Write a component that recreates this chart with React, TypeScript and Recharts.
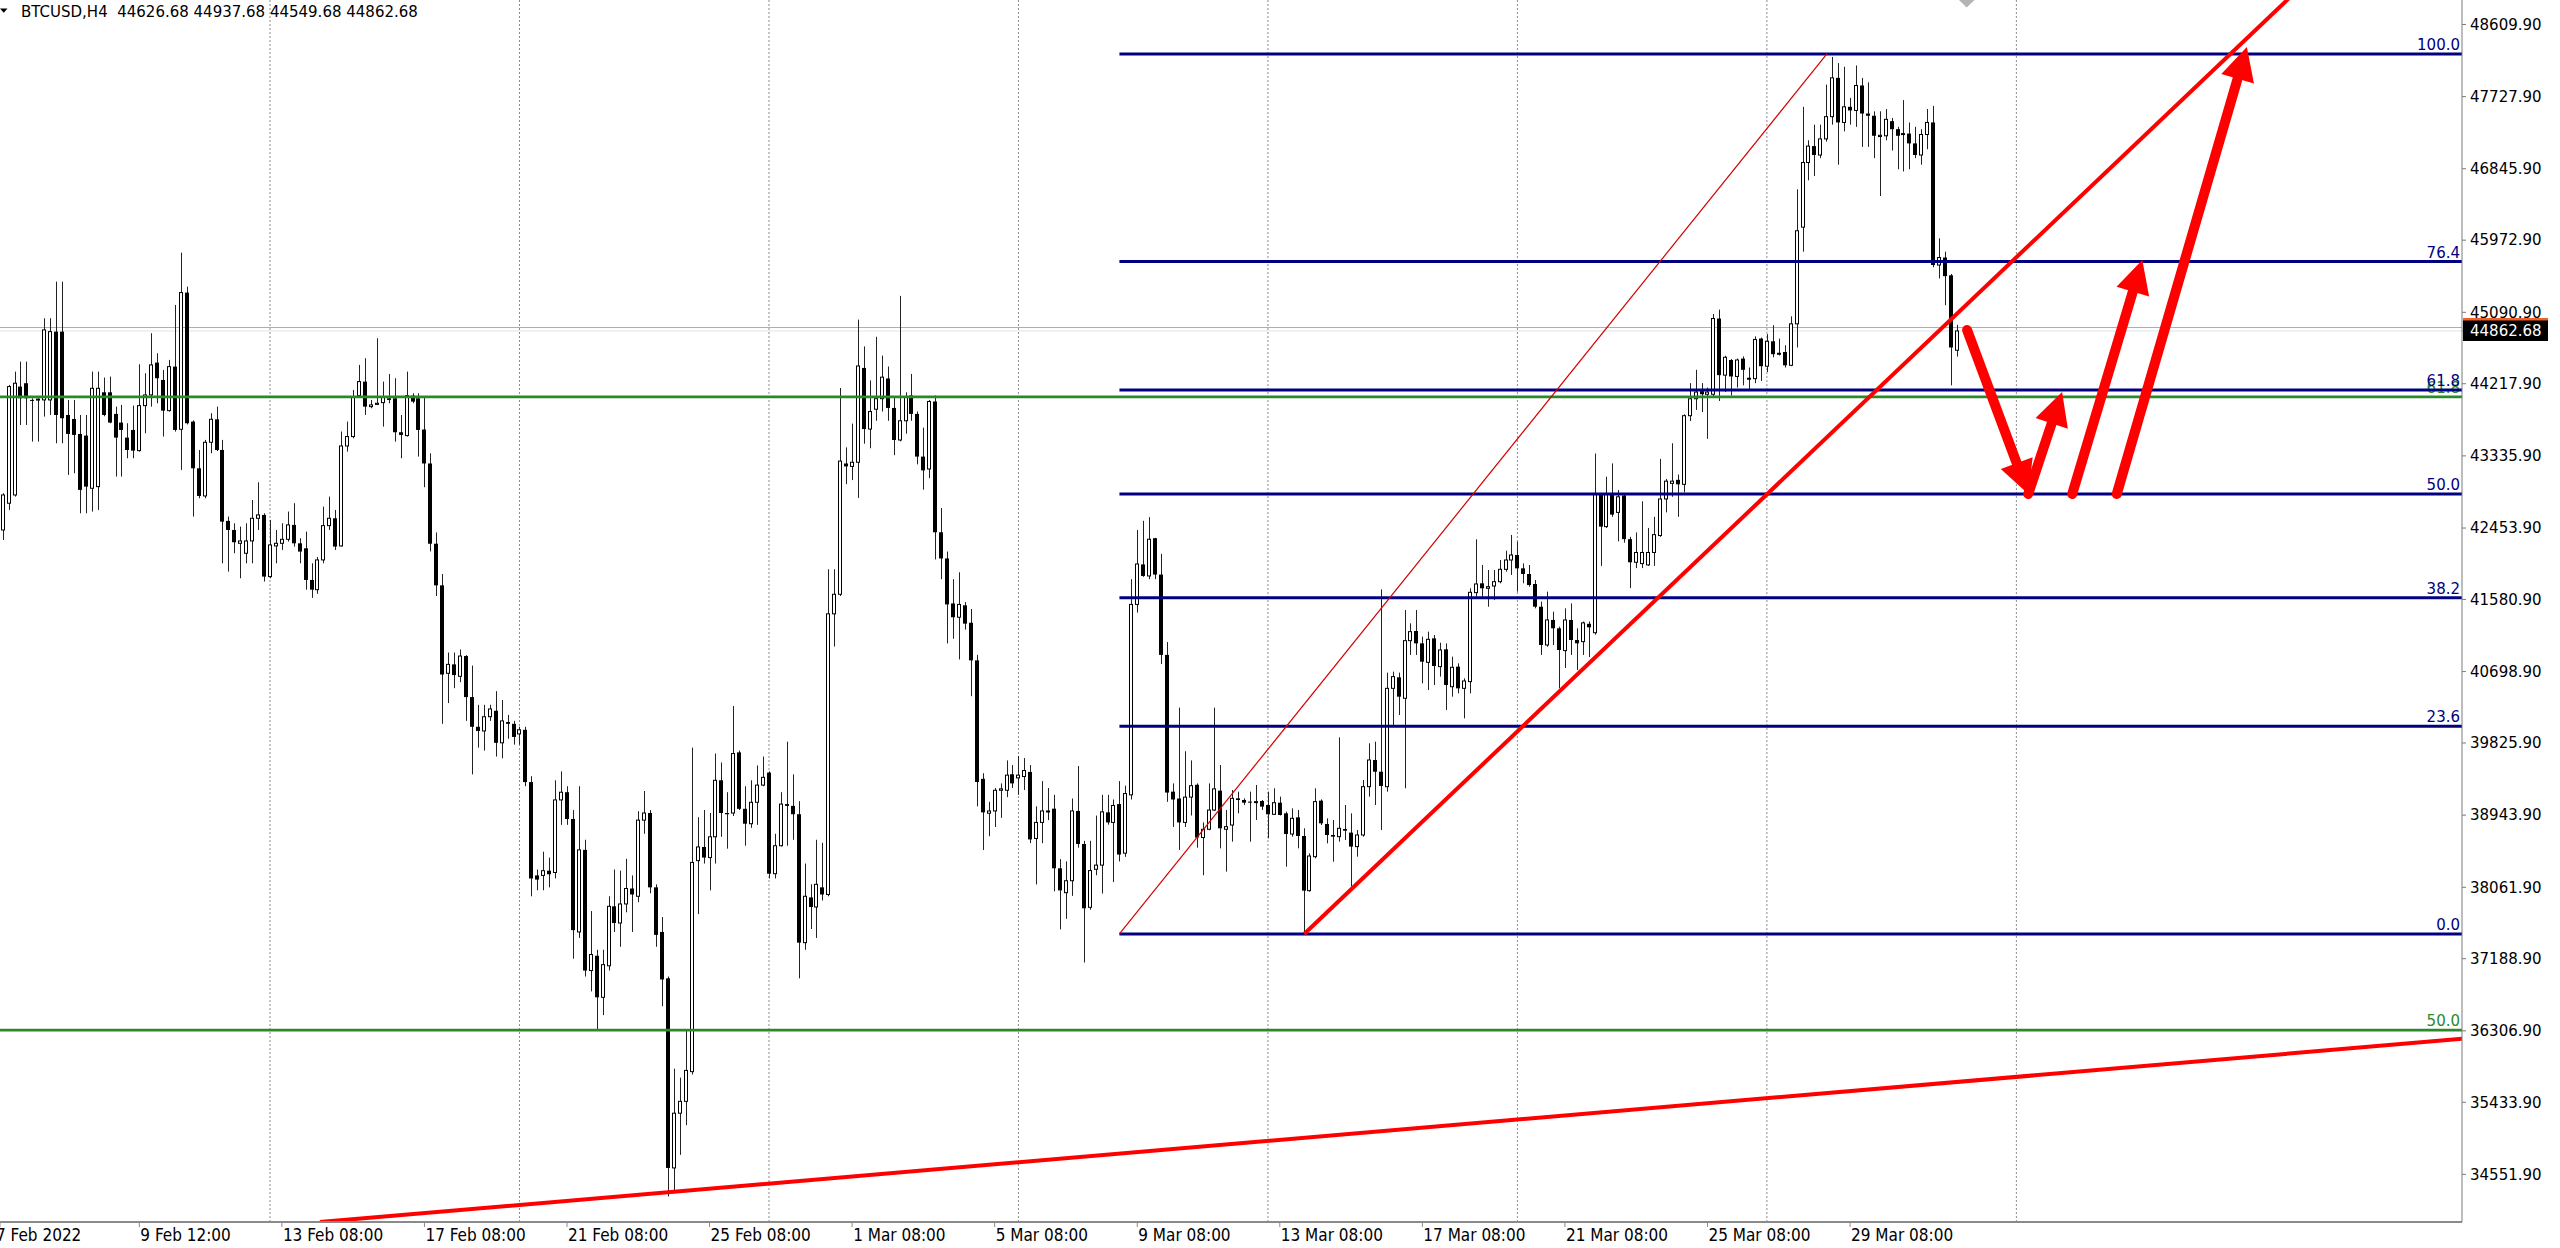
import React from "react";
import {
  ComposedChart,
  Bar,
  Line,
  Scatter,
  XAxis,
  YAxis,
  ReferenceLine,
} from "recharts";

// H4 candles (bar 0 is the leftmost candle)
const opens = [
  42430, 42757, 42858, 44183, 44224, 44020, 44020, 44020, 44020, 44855,
  44855, 43836, 43787, 43604, 43584, 42940, 42960, 44113, 44113, 43849,
  43743, 43559, 43653, 43400, 43950, 44081, 44476, 44264, 43889, 44427,
  43661, 45332, 43755, 43184, 42846, 43502, 43783, 43408, 42541, 42430,
  42267, 42145, 42296, 42573, 42614, 41860, 42235, 42267, 42316, 42492,
  42267, 42206, 41819, 41700, 42064, 42483, 42573, 42235, 43457, 43572,
  44073, 44244, 43938, 43965, 43987, 44040, 44040, 43625, 43584, 44073,
  44040, 43658, 43243, 42262, 41753, 40678, 40787, 40641, 40889, 40387,
  40024, 39973, 40147, 40220, 39828, 40082, 40060, 39937, 39987, 39348,
  38207, 38207, 38265, 38243, 39130, 39224, 38897, 37516, 38519, 37044,
  37225, 36717, 37102, 37829, 37625, 37858, 38047, 37952, 38883, 38970,
  38061, 37516, 36949, 34631, 35300, 35445, 35808, 38388, 38555, 38425,
  38679, 39370, 38970, 38970, 39711, 39021, 38839, 39101, 39311, 39464,
  38228, 38570, 39079, 39057, 38955, 37385, 37938, 37821, 38061, 37974,
  41405, 41644, 43243, 43207, 43258, 44411, 43664, 43906, 44035, 44282,
  43922, 43530, 43765, 44074, 43849, 43327, 43176, 44001, 42402, 42082,
  41532, 41363, 41509, 41296, 40836, 39388, 38967, 38995, 39248, 39248,
  39444, 39399, 39416, 39472, 38658, 38855, 38990, 39023, 38294, 37996,
  38142, 38995, 38591, 37817, 38282, 38333, 38978, 38855, 39079, 38479,
  39192, 41520, 42009, 41868, 42329, 41885, 40903, 39231, 39147, 38855,
  39164, 39315, 38670, 38771, 39006, 39243, 38771, 38823, 39149, 39129,
  39109, 39105, 39117, 39068, 38954, 39096, 38966, 38713, 38917, 38689,
  38021, 38436, 39121, 38836, 38701, 38681, 38775, 38730, 38559, 38701,
  39292, 39618, 39475, 39292, 40494, 40629, 40372, 41077, 41195, 41044,
  40812, 41105, 40759, 40971, 40514, 40759, 40494, 40576, 41664, 41778,
  41717, 41745, 41798, 41949, 42063, 42124, 41961, 41892, 41770, 41492,
  41024, 41330, 41228, 40955, 41330, 41085, 41065, 41283, 41174, 42863,
  42471, 42863, 42645, 42852, 42318, 42035, 42019, 42003, 42155, 42362,
  42809, 43000, 43043, 42988, 43827, 44034, 44127, 44089, 44089, 45015,
  44323, 44508, 44307, 44525, 44275, 44280, 44770, 44432, 44737, 44579,
  44606, 44443, 44950, 46132, 46922, 47123, 47014, 47211, 47483, 47957,
  47412, 47603, 47559, 47864, 47521, 47494, 47240, 47249, 47428, 47330,
  47265, 47276, 47156, 47014, 47265, 47412, 45669, 45761, 45543, 44627,
];

const highs = [
  42879, 44203, 44366, 44488, 44488, 44040, 44040, 45018, 45018, 45466,
  45466, 44020, 44020, 43836, 43836, 44366, 44366, 44293, 44305, 43938,
  43959, 43735, 43950, 44456, 44346, 44835, 44590, 44387, 44509, 45181,
  45821, 45405, 43770, 43408, 43531, 43857, 43938, 43531, 42594, 42512,
  42471, 42512, 42797, 43013, 42634, 42553, 42430, 42512, 42655, 42757,
  42329, 42410, 42023, 42100, 42716, 42838, 42675, 43633, 43755, 44142,
  44448, 44529, 44020, 44774, 44244, 44336, 44285, 43836, 44366, 44101,
  44101, 44057, 43367, 42400, 41892, 40932, 40932, 40969, 40900, 40772,
  40293, 40293, 40293, 40460, 40351, 40169, 40096, 40024, 40024, 39420,
  38279, 38497, 38425, 39370, 39479, 39297, 39006, 39297, 38643, 37771,
  37298, 37298, 37952, 38279, 38265, 38410, 38207, 38992, 39239, 39006,
  38098, 37698, 36971, 35845, 35735, 36317, 39769, 38919, 39006, 38970,
  39697, 39588, 39224, 40278, 39733, 39297, 39370, 39551, 39660, 39479,
  38716, 39224, 39842, 39442, 39115, 38352, 38098, 38643, 38606, 41950,
  41950, 44166, 43440, 43730, 45002, 44674, 44259, 44792, 44562, 44428,
  44057, 45292, 44113, 44338, 43878, 43681, 44018, 44074, 42699, 42166,
  41829, 41913, 41549, 41464, 40903, 39456, 39107, 39276, 39332, 39613,
  39556, 39668, 39641, 39556, 39051, 39360, 39276, 39192, 38406, 38378,
  39147, 39545, 38630, 38630, 38939, 39192, 39192, 39135, 39360, 39304,
  41829, 42430, 42542, 42587, 42334, 42138, 41060, 39332, 40258, 39725,
  39613, 39332, 38855, 39332, 40258, 39557, 39007, 39251, 39231, 39149,
  39231, 39312, 39129, 39231, 39272, 39170, 38986, 39027, 39007, 38783,
  38477, 39272, 39137, 38905, 38885, 39895, 39068, 38966, 38762, 39374,
  39822, 39842, 41704, 40686, 40698, 40686, 41452, 41289, 41452, 41126,
  41187, 41146, 41052, 41044, 40881, 40800, 40616, 41717, 42316, 42002,
  41941, 41941, 42063, 42177, 42369, 42287, 42022, 42002, 41818, 41554,
  41676, 41431, 41248, 41472, 41533, 41228, 41311, 41311, 43364, 42880,
  43081, 43244, 42918, 42863, 42346, 42400, 42781, 42455, 42591, 43299,
  43054, 43490, 43108, 43844, 44225, 44388, 44225, 44171, 45070, 45124,
  44560, 44520, 44525, 44552, 44416, 44797, 44781, 44824, 44933, 44770,
  44688, 45042, 46595, 47603, 47194, 47385, 47385, 47875, 48213, 48137,
  48093, 47712, 48109, 47957, 47902, 47548, 47548, 47576, 47467, 47358,
  47685, 47412, 47358, 47330, 47576, 47614, 45996, 45832, 45560, 44938,
];

const lows = [
  42308, 42675, 42838, 43714, 43714, 43510, 43510, 43816, 43836, 43490,
  43490, 43103, 43123, 42634, 42634, 42655, 42675, 43820, 43735, 43083,
  43083, 43307, 43307, 43388, 43612, 43938, 43979, 43572, 43877, 43633,
  43164, 43720, 42594, 42818, 42818, 43368, 43395, 42023, 41921, 42145,
  41840, 42023, 42023, 42430, 41800, 41840, 42023, 42186, 42288, 42227,
  42023, 41700, 41600, 41650, 42023, 42430, 42186, 42227, 43388, 43551,
  44060, 43836, 43918, 43959, 43694, 43979, 43510, 43307, 43572, 43979,
  43327, 42953, 42168, 41623, 40060, 40314, 40496, 40569, 40096, 39442,
  39769, 39733, 40096, 39660, 39638, 39878, 39806, 39806, 39297, 37952,
  38025, 38025, 38061, 38170, 38825, 38825, 37189, 37443, 36971, 36789,
  36317, 36499, 37044, 37516, 37335, 37756, 37516, 37879, 38716, 37989,
  37335, 36608, 34282, 34355, 34791, 35154, 35772, 37734, 38352, 38025,
  38352, 38679, 38534, 38933, 39006, 38570, 38788, 38825, 39297, 38170,
  38170, 38560, 38570, 38643, 36949, 37298, 37552, 37443, 37900, 37952,
  41005, 41623, 42990, 43040, 42822, 43485, 43429, 43765, 43878, 43765,
  43344, 43513, 43608, 43765, 43232, 42923, 43064, 42070, 41829, 41043,
  41100, 40847, 41212, 40398, 39051, 38518, 38686, 38799, 38911, 39164,
  39276, 39192, 39251, 38602, 38097, 38602, 38883, 38013, 37547, 37676,
  37957, 38546, 37143, 37788, 38209, 37985, 38827, 38125, 38378, 38434,
  39135, 41420, 41857, 41829, 41829, 40791, 39107, 38799, 38518, 38799,
  38939, 38546, 38209, 38760, 38995, 38538, 38253, 38620, 38966, 39068,
  38620, 38885, 39007, 38660, 38946, 38940, 38314, 38681, 38538, 37491,
  38008, 38416, 38823, 38599, 38375, 38620, 38640, 38070, 38436, 38681,
  39170, 39068, 38762, 39231, 40026, 40168, 39272, 40902, 40902, 40555,
  40474, 40535, 40637, 40229, 40392, 40433, 40127, 40433, 41615, 41615,
  41492, 41574, 41778, 41920, 41880, 41676, 41778, 41737, 41472, 40902,
  41003, 41024, 40494, 40742, 40902, 40718, 40902, 40875, 41150, 41991,
  42455, 42591, 42291, 42275, 41719, 41964, 41964, 41991, 41991, 42346,
  42645, 42836, 42591, 42890, 43762, 43898, 43871, 43544, 44062, 44007,
  44116, 44073, 44171, 44198, 44143, 44225, 44252, 44361, 44541, 44563,
  44416, 44432, 44661, 45832, 46704, 46758, 46976, 47178, 47385, 46895,
  47303, 47385, 47358, 47113, 47113, 46976, 46513, 47194, 47069, 46840,
  46813, 46840, 46976, 46895, 47085, 45642, 45505, 45178, 44198, 44550,
];

const closes = [
  42858, 44183, 44224, 44040, 44040, 44010, 44030, 44876, 44855, 43836,
  43796, 43604, 43592, 42920, 42960, 44162, 44162, 43836, 43743, 43559,
  43653, 43408, 43400, 43950, 44081, 44448, 44285, 43889, 44427, 43653,
  45332, 43735, 43184, 42846, 43502, 43783, 43408, 42532, 42430, 42280,
  42296, 42296, 42573, 42614, 41860, 42247, 42267, 42316, 42492, 42267,
  42166, 41819, 41700, 42064, 42483, 42573, 42227, 43457, 43572, 44060,
  44244, 43938, 43959, 43979, 44060, 44020, 43625, 43592, 44073, 43999,
  43653, 43243, 42262, 41753, 40663, 40787, 40656, 40889, 40387, 40024,
  39973, 40147, 40242, 39828, 40096, 40060, 39900, 39987, 39348, 38170,
  38156, 38265, 38221, 39130, 39224, 38897, 37538, 38519, 37044, 37240,
  36717, 37116, 37829, 37625, 37858, 38047, 37974, 38883, 38970, 38061,
  37480, 36935, 34631, 35300, 35445, 35823, 38366, 38555, 38425, 38679,
  39370, 38970, 38955, 39697, 39021, 38839, 39101, 39311, 39406, 38228,
  38570, 39079, 39057, 38955, 37385, 37952, 37821, 38098, 37974, 41405,
  41644, 43272, 43207, 43258, 44435, 43664, 43878, 44035, 44298, 43922,
  43530, 43765, 44057, 43849, 43327, 43159, 44001, 42402, 42082, 41520,
  41363, 41520, 41285, 40836, 39349, 38978, 38995, 39248, 39265, 39433,
  39332, 39433, 39489, 38647, 38855, 38995, 38995, 38294, 38024, 38142,
  38995, 38591, 37805, 38266, 38333, 38984, 38855, 39062, 38462, 39208,
  41520, 42014, 41868, 42317, 41885, 40903, 39220, 39135, 38855, 39164,
  39304, 38670, 38771, 39006, 39265, 38783, 38803, 39149, 39129, 39096,
  39105, 39109, 39048, 38954, 39096, 38946, 38713, 38905, 38689, 38021,
  38444, 39109, 38844, 38701, 38681, 38783, 38754, 38559, 38701, 39292,
  39618, 39475, 39300, 40494, 40637, 40392, 41077, 41187, 41044, 40820,
  41093, 40767, 40963, 40535, 40751, 40494, 40584, 41668, 41770, 41717,
  41737, 41798, 41949, 42063, 42124, 41961, 41892, 41757, 41492, 41024,
  41330, 41228, 40963, 41330, 41085, 41044, 41294, 41240, 42863, 42471,
  42863, 42618, 42836, 42318, 42035, 42155, 42155, 42155, 42373, 42809,
  43027, 43027, 42988, 43827, 44034, 44116, 44089, 44116, 45015, 44323,
  44541, 44307, 44508, 44388, 44285, 44759, 44432, 44737, 44579, 44590,
  44443, 44950, 46088, 46922, 47123, 47014, 47211, 47483, 47957, 47412,
  47603, 47559, 47864, 47521, 47494, 47249, 47255, 47450, 47330, 47249,
  47276, 47156, 47014, 47265, 47412, 45669, 45761, 45533, 44661, 44863,
];

// visible window, in bars and price
const X_MIN = -0.4545;
const X_MAX = 414.02;
const Y_MIN = 33970;
const Y_MAX = 48909;

const timeLabels = [
  "7 Feb 2022", "9 Feb 12:00", "13 Feb 08:00", "17 Feb 08:00", "21 Feb 08:00",
  "25 Feb 08:00", "1 Mar 08:00", "5 Mar 08:00", "9 Mar 08:00", "13 Mar 08:00",
  "17 Mar 08:00", "21 Mar 08:00", "25 Mar 08:00", "29 Mar 08:00",
];
const timeLabelBars = [X_MIN, 23, 47, 71, 95, 119, 143, 167, 191, 215, 239, 263, 287, 311];

const priceTicks = [
  48609.9, 47727.9, 46845.9, 45972.9, 45090.9, 44217.9, 43335.9, 42453.9, 41580.9,
  40698.9, 39825.9, 38943.9, 38061.9, 37188.9, 36306.9, 35433.9, 34551.9,
];
const bidPrice = 44862.68;
const askPrice = 44905;

const gridBars = [45, 87, 129, 171, 213, 255, 297, 339];

// navy fibo (0 -> 100) and the far larger green one (only 50 / 61.8 visible)
const fibNames = ["0.0", "23.6", "38.2", "50.0", "61.8", "76.4", "100.0"];
const fibPrices = [37491, 40030, 41601, 42870, 44140, 45711, 48250];
const fibStartBar = 188.0;
const fibEndBar = 307.1;
const greenFibNames = ["50.0", "61.8"];
const greenFibPrices = [36316, 44057];

const trendUp = [
  { i: 219.1, p: 37491 },
  { i: 414.02, p: 50940 },
];
const trendBottom = [
  { i: 53.4, p: 33970 },
  { i: 414.02, p: 36210 },
];
const fibDiagonal = [
  { i: fibStartBar, p: fibPrices[0] },
  { i: fibEndBar, p: fibPrices[6] },
];

const arrows = [
  [{ i: 330.7, p: 44875 }, { i: 341.0, p: 42870 }],
  [{ i: 341.0, p: 42870 }, { i: 346.7, p: 44117 }],
  [{ i: 348.4, p: 42870 }, { i: 360.2, p: 45731 }],
  [{ i: 355.9, p: 42870 }, { i: 377.8, p: 48335 }],
];

const candles = opens.map((o, i) => ({
  i,
  o,
  h: highs[i],
  l: lows[i],
  c: closes[i],
  range: [lows[i], highs[i]],
}));

const AXIS_FONT = "'DejaVu Sans', Verdana, sans-serif";
const TIME_FONT = "'DejaVu Sans Condensed', 'DejaVu Sans', sans-serif";
const NAVY = "#000080";
const GREEN = "#2a8a2a";
const RED = "#ff0000";

const Candle = (props: any) => {
  const { x, y, width, height, payload } = props;
  if (!payload || height == null) return null;
  const { o, h, l, c } = payload;
  const k = h > l ? height / (h - l) : 0;
  const top = y + (h - Math.max(o, c)) * k;
  const bot = y + (h - Math.min(o, c)) * k;
  const cx = Math.round(x + width / 2);
  const bodyH = Math.max(bot - top, 1);
  return (
    <g>
      <line x1={cx + 0.5} x2={cx + 0.5} y1={y} y2={y + height} stroke="#222" strokeWidth={1} />
      {c >= o ? (
        <rect x={cx - 1.5} y={top} width={3} height={bodyH} fill="#fff" stroke="#000" strokeWidth={1} />
      ) : (
        <rect x={cx - 2} y={top} width={4} height={bodyH} fill="#000" />
      )}
    </g>
  );
};

const arrowStarts: Record<number, { x: number; y: number }> = {};

const makeArrowDot = (id: number) => (props: any) => {
  const { cx, cy, index, points } = props;
  if (index === 0) {
    arrowStarts[id] = { x: cx, y: cy };
    return <g key={`a${id}-0`} />;
  }
  const s = points && points[0] ? { x: points[0].x, y: points[0].y } : arrowStarts[id];
  if (!s) return <g key={`a${id}-1`} />;
  const dx = cx - s.x;
  const dy = cy - s.y;
  const len = Math.sqrt(dx * dx + dy * dy) || 1;
  const ux = dx / len;
  const uy = dy / len;
  const headL = 33;
  const halfW = 17;
  const bx = cx - ux * headL;
  const by = cy - uy * headL;
  const ex = cx - ux * headL * 0.6;
  const ey = cy - uy * headL * 0.6;
  const head = `${cx},${cy} ${bx - uy * halfW},${by + ux * halfW} ${bx + uy * halfW},${by - ux * halfW}`;
  return (
    <g key={`a${id}-1`}>
      <line x1={s.x} y1={s.y} x2={ex} y2={ey} stroke={RED} strokeWidth={10} strokeLinecap="round" />
      <polygon points={head} fill={RED} />
    </g>
  );
};

const TimeTick = (props: any) => {
  const { x, y, payload } = props;
  const idx = timeLabelBars.indexOf(payload.value);
  if (idx < 0) return null;
  return (
    <text
      x={idx === 0 ? x - 4 : x + 1}
      y={y}
      dy="0.71em"
      fontSize={17}
      fontFamily={TIME_FONT}
      fill="#000"
      textAnchor="start"
    >
      {timeLabels[idx]}
    </text>
  );
};

const PriceTick = (props: any) => {
  const { x, y, payload } = props;
  const v = payload.value;
  if (v === bidPrice) {
    return (
      <g>
        <rect x={x - 7} y={y - 11} width={85} height={21} fill="#000" />
        <rect x={x - 7} y={y - 13} width={85} height={2.5} fill="#f0602a" />
        <text x={x} y={y} dy="0.355em" fontSize={15} fontFamily={AXIS_FONT} fill="#fff">
          {v.toFixed(2)}
        </text>
      </g>
    );
  }
  return (
    <text x={x} y={y} dy="0.355em" fontSize={15} fontFamily={AXIS_FONT} fill="#000">
      {v.toFixed(2)}
    </text>
  );
};

const LevelLabel = (props: any) => {
  const { cx, cy, payload } = props;
  return (
    <text
      x={cx - 2}
      y={cy - 4}
      textAnchor="end"
      fontSize={15}
      fontFamily={AXIS_FONT}
      fill={payload.color}
    >
      {payload.t}
    </text>
  );
};

const hLine = (p: number, from = X_MIN) => [
  { i: from, p },
  { i: X_MAX, p },
];

export default function App() {
  const navyLabels = fibNames.map((t, k) => ({ i: X_MAX, p: fibPrices[k], t, color: NAVY }));
  const greenLabels = greenFibNames.map((t, k) => ({ i: X_MAX, p: greenFibPrices[k], t, color: GREEN }));

  return (
    <div style={{ position: "absolute", left: 0, top: 0, width: 2560, height: 1248, background: "#fff" }}>
      <ComposedChart
        width={2560}
        height={1248}
        data={candles}
        margin={{ top: 0, right: 0, bottom: 0, left: 0 }}
      >
        <XAxis
          type="number"
          dataKey="i"
          domain={[X_MIN, X_MAX]}
          allowDataOverflow
          ticks={timeLabelBars}
          interval={0}
          height={26}
          tickSize={5}
          tick={<TimeTick />}
          axisLine={{ stroke: "#8a8a8a", strokeWidth: 2 }}
          tickLine={{ stroke: "#8a8a8a" }}
        />
        <YAxis
          orientation="right"
          type="number"
          domain={[Y_MIN, Y_MAX]}
          allowDataOverflow
          ticks={[...priceTicks, bidPrice]}
          interval={0}
          width={98}
          tickSize={4}
          tickMargin={4}
          tick={<PriceTick />}
          axisLine={{ stroke: "#7a7a7a" }}
          tickLine={{ stroke: "#7a7a7a" }}
        />

        {gridBars.map((b) => (
          <ReferenceLine key={`g${b}`} x={b} stroke="#8c8c8c" strokeDasharray="2 2" zIndex={-10} />
        ))}

        <Line data={hLine(askPrice)} dataKey="p" stroke="#e89a74" strokeWidth={1} dot={false} activeDot={false} isAnimationActive={false} zIndex={50} />
        <Line data={hLine(bidPrice)} dataKey="p" stroke="#d9e6ee" strokeWidth={1} dot={false} activeDot={false} isAnimationActive={false} zIndex={50} />

        <Bar dataKey="range" barSize={4} shape={<Candle />} isAnimationActive={false} zIndex={300} />

        {greenFibPrices.map((p, k) => (
          <Line key={`gf${k}`} data={hLine(p)} dataKey="p" stroke={GREEN} strokeWidth={2.6} dot={false} activeDot={false} isAnimationActive={false} zIndex={320} />
        ))}
        <Scatter data={greenLabels} dataKey="p" shape={<LevelLabel />} isAnimationActive={false} zIndex={340} />

        {fibPrices.map((p, k) => (
          <Line key={`f${k}`} data={hLine(p, fibStartBar)} dataKey="p" stroke={NAVY} strokeWidth={3} dot={false} activeDot={false} isAnimationActive={false} zIndex={400} />
        ))}
        <Line data={fibDiagonal} dataKey="p" stroke="#d40000" strokeWidth={1.2} dot={false} activeDot={false} isAnimationActive={false} zIndex={410} />
        <Line data={trendUp} dataKey="p" stroke={RED} strokeWidth={4} dot={false} activeDot={false} isAnimationActive={false} zIndex={420} />
        <Line data={trendBottom} dataKey="p" stroke={RED} strokeWidth={4} dot={false} activeDot={false} isAnimationActive={false} zIndex={420} />

        {arrows.map((a, k) => (
          <Line key={`ar${k}`} data={a} dataKey="p" stroke="none" dot={makeArrowDot(k)} activeDot={false} isAnimationActive={false} zIndex={450} />
        ))}

        <Scatter data={navyLabels} dataKey="p" shape={<LevelLabel />} isAnimationActive={false} zIndex={600} />
      </ComposedChart>

      <svg
        width={2560}
        height={40}
        style={{ position: "absolute", left: 0, top: 0, pointerEvents: "none" }}
      >
        <polygon points="0,8.5 7.5,8.5 3.75,12.8" fill="#000" />
        <text x={21} y={17} fontSize={15} fontFamily={AXIS_FONT} fill="#000" style={{ whiteSpace: "pre" }}>
          {"BTCUSD,H4  44626.68 44937.68 44549.68 44862.68"}
        </text>
        <polygon points="1959,0 1974.5,0 1966.7,7.5" fill="#b4b4b4" />
      </svg>
    </div>
  );
}
